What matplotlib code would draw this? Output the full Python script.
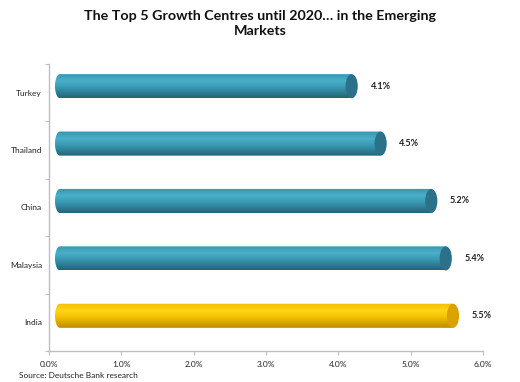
import numpy as np
import matplotlib
matplotlib.use("Agg")
import matplotlib.pyplot as plt
from matplotlib.path import Path
from matplotlib.patches import PathPatch, Ellipse
from matplotlib.transforms import ScaledTranslation
from matplotlib.colors import LinearSegmentedColormap

plt.rcParams['font.family'] = ['Lato', 'DejaVu Sans']

categories = ["Turkey", "Thailand", "China", "Malaysia", "India"]
values = [4.1, 4.5, 5.2, 5.4, 5.5]
highlight = [False, False, False, False, True]
xticks = [0, 1, 2, 3, 4, 5, 6]
title = "The Top 5 Growth Centres until 2020\u2026 in the Emerging\nMarkets"
source = "Source: Deutsche Bank research"

teal = dict(stops=[(0.0, "#3893ae"), (0.3, "#4aafc8"), (0.55, "#3a9bb6"), (1.0, "#236477")],
            cap="#2a7189")
gold = dict(stops=[(0.0, "#f2be00"), (0.3, "#ffd51a"), (0.55, "#f6c200"), (1.0, "#bd8d00")],
            cap="#d9a200")

fig = plt.figure(figsize=(5.2, 3.82), dpi=100)
ax = fig.add_axes([0.0942, 0.0812, 0.835, 0.7513])

n = len(categories)
ypos = np.arange(n)
ax.set_xlim(0, 6)
ax.set_ylim(n - 0.5, -0.5)

off = ScaledTranslation(0.06, 0.065, fig.dpi_scale_trans)
tr = ax.transData + off

h = 0.42
rx = 0.07


def gradient_img(stops, N=64):
    cmap = LinearSegmentedColormap.from_list("g", stops)
    t = np.linspace(0, 1, N)
    return cmap(t)[:, None, :]


for y, v, hl in zip(ypos, values, highlight):
    style = gold if hl else teal
    top, bot = y - h / 2, y + h / 2
    th = np.linspace(np.pi / 2, 3 * np.pi / 2, 40)
    lx = rx + rx * np.cos(th)
    ly = y - (h / 2) * np.sin(th)
    verts = [(v, top)] + list(zip(lx, ly)) + [(v, bot), (v, top)]
    codes = [Path.MOVETO] + [Path.LINETO] * (len(verts) - 2) + [Path.CLOSEPOLY]
    clip = PathPatch(Path(verts, codes), transform=tr, facecolor="none", edgecolor="none")
    ax.add_patch(clip)
    img = ax.imshow(gradient_img(style["stops"]), extent=(0, v, bot, top),
                    aspect="auto", transform=tr, interpolation="bilinear", zorder=2)
    img.set_clip_path(clip)
    cap = Ellipse((v, y), 2 * rx * 1.2, h, transform=tr, facecolor=style["cap"],
                  edgecolor="none", zorder=3)
    ax.add_patch(cap)
    ax.annotate(f"{v:.1f}%", xy=(v, y), xycoords=tr, xytext=(13.5, 0),
                textcoords="offset points", ha="left", va="center",
                fontsize=6.5, fontweight="bold", color="#222222")

ax.set_yticks(ypos)
ax.set_yticklabels(categories)
ax.set_yticks(np.arange(n + 1) - 0.5, minor=True)
ax.tick_params(axis="y", which="major", length=0, pad=5, labelsize=6, labelcolor="#222222")
ax.tick_params(axis="y", which="minor", length=3, color="#bfbfbf", width=0.8)
ax.set_xticks(xticks)
ax.set_xticklabels([f"{t:.1f}%" for t in xticks])
ax.tick_params(axis="x", length=3, color="#bfbfbf", width=0.8, labelsize=6,
               labelcolor="#222222", pad=4)

for s in ["top", "right"]:
    ax.spines[s].set_visible(False)
for s in ["left", "bottom"]:
    ax.spines[s].set_color("#bfbfbf")
    ax.spines[s].set_linewidth(1.0)

fig.text(0.5, 0.975, title, ha="center", va="top", fontsize=10.3, fontweight="bold",
         color="#111111", linespacing=1.3)
fig.text(0.037, 0.008, source, ha="left", va="bottom", fontsize=6, color="#222222")

fig.savefig("out.png", dpi=100)
